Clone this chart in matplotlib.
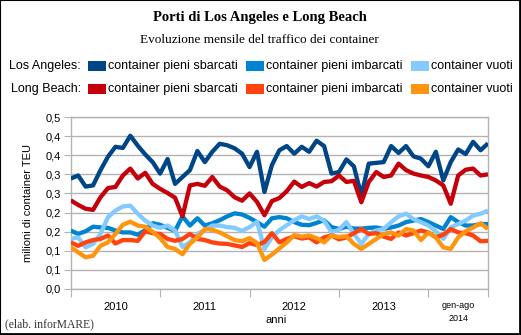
import numpy as np
import matplotlib
matplotlib.use("Agg")
import matplotlib.pyplot as plt
from matplotlib.patches import Rectangle
from matplotlib.lines import Line2D

# Monthly container traffic, millions of TEU
la_sbarcati = [0.289, 0.297, 0.268, 0.271, 0.311, 0.346, 0.372, 0.369, 0.401, 0.375, 0.352, 0.332,
               0.302, 0.340, 0.275, 0.293, 0.311, 0.361, 0.332, 0.359, 0.380, 0.376, 0.368, 0.354,
               0.319, 0.359, 0.254, 0.324, 0.363, 0.374, 0.354, 0.372, 0.359, 0.388, 0.374, 0.302,
               0.306, 0.339, 0.321, 0.245, 0.328, 0.330, 0.332, 0.374, 0.356, 0.374, 0.347, 0.341,
               0.321, 0.359, 0.284, 0.332, 0.365, 0.353, 0.385, 0.363, 0.381]
la_imbarcati = [0.153, 0.144, 0.151, 0.163, 0.161, 0.160, 0.153, 0.148, 0.148, 0.142, 0.154, 0.172,
                0.168, 0.160, 0.152, 0.190, 0.166, 0.185, 0.166, 0.172, 0.180, 0.190, 0.198, 0.195,
                0.186, 0.175, 0.163, 0.185, 0.188, 0.185, 0.175, 0.168, 0.167, 0.173, 0.180, 0.162,
                0.157, 0.163, 0.158, 0.158, 0.160, 0.161, 0.157, 0.161, 0.166, 0.175, 0.179, 0.183,
                0.175, 0.166, 0.157, 0.188, 0.175, 0.166, 0.166, 0.170, 0.170]
la_vuoti = [0.131, 0.135, 0.109, 0.118, 0.144, 0.188, 0.205, 0.216, 0.218, 0.197, 0.179, 0.166,
            0.160, 0.166, 0.153, 0.110, 0.122, 0.144, 0.154, 0.166, 0.166, 0.162, 0.160, 0.152,
            0.162, 0.176, 0.105, 0.135, 0.154, 0.167, 0.180, 0.190, 0.183, 0.190, 0.179, 0.148,
            0.155, 0.175, 0.145, 0.118, 0.144, 0.153, 0.157, 0.175, 0.190, 0.197, 0.183, 0.175,
            0.166, 0.151, 0.131, 0.161, 0.170, 0.179, 0.192, 0.197, 0.205]
lb_sbarcati = [0.232, 0.220, 0.210, 0.207, 0.240, 0.264, 0.267, 0.297, 0.315, 0.289, 0.304, 0.275,
               0.262, 0.251, 0.239, 0.190, 0.271, 0.275, 0.270, 0.293, 0.268, 0.258, 0.240, 0.231,
               0.250, 0.228, 0.193, 0.230, 0.238, 0.256, 0.281, 0.267, 0.277, 0.268, 0.280, 0.282,
               0.297, 0.280, 0.283, 0.227, 0.280, 0.306, 0.293, 0.297, 0.328, 0.311, 0.302, 0.297,
               0.293, 0.284, 0.271, 0.223, 0.297, 0.312, 0.315, 0.297, 0.300]
lb_imbarcati = [0.122, 0.113, 0.122, 0.128, 0.131, 0.140, 0.119, 0.128, 0.128, 0.126, 0.151, 0.146,
                0.144, 0.131, 0.126, 0.131, 0.144, 0.131, 0.128, 0.122, 0.119, 0.118, 0.114, 0.110,
                0.120, 0.115, 0.123, 0.146, 0.122, 0.131, 0.138, 0.132, 0.135, 0.122, 0.135, 0.140,
                0.130, 0.135, 0.146, 0.157, 0.144, 0.146, 0.137, 0.131, 0.148, 0.140, 0.146, 0.153,
                0.148, 0.135, 0.142, 0.157, 0.148, 0.146, 0.140, 0.125, 0.126]
lb_vuoti = [0.109, 0.096, 0.083, 0.087, 0.113, 0.122, 0.144, 0.168, 0.176, 0.166, 0.163, 0.150,
            0.133, 0.110, 0.105, 0.091, 0.118, 0.135, 0.157, 0.155, 0.148, 0.138, 0.128, 0.125,
            0.133, 0.120, 0.076, 0.090, 0.106, 0.122, 0.141, 0.137, 0.140, 0.133, 0.122, 0.140,
            0.136, 0.138, 0.118, 0.105, 0.118, 0.131, 0.144, 0.148, 0.140, 0.157, 0.153, 0.128,
            0.148, 0.135, 0.109, 0.105, 0.135, 0.151, 0.161, 0.172, 0.157]

series_labels = ["container pieni sbarcati", "container pieni imbarcati", "container vuoti"]
port_labels = ["Los Angeles:", "Long Beach:"]
year_labels = ["2010", "2011", "2012", "2013", "gen-ago\n2014"]
year_bounds = [0, 12, 24, 36, 48, 56]
y_ticks = [0.0, 0.05, 0.10, 0.15, 0.20, 0.25, 0.30, 0.35, 0.40, 0.45]
y_tick_labels = ["0,0", "0,1", "0,1", "0,2", "0,2", "0,3", "0,3", "0,4", "0,4", "0,5"]

la_colors = ["#004586", "#0084d1", "#83caff"]
lb_colors = ["#c5000b", "#ff420e", "#ff950e"]

W, H = 521, 335
fig = plt.figure(figsize=(W / 100, H / 100), dpi=100)
fig.patch.set_facecolor("white")

SANS = ["Liberation Sans", "DejaVu Sans"]
SERIF = ["Liberation Serif", "DejaVu Serif"]
GRID = "#b3b3b3"


def fx(px):
    return px / W


def fy(py):
    return 1 - py / H


# plot area
x0, x1, ytop, ybot = 70.7, 488, 117, 289
ax = fig.add_axes([fx(x0), fy(ybot), fx(x1 - x0), (ybot - ytop) / H])

x = np.arange(len(la_sbarcati))
all_series = [la_sbarcati, la_imbarcati, la_vuoti, lb_sbarcati, lb_imbarcati, lb_vuoti]
all_colors = la_colors + lb_colors
for vals, col in zip(all_series, all_colors):
    ax.plot(x, vals, color=col, lw=3.1, solid_joinstyle="round", solid_capstyle="butt", zorder=3)

ax.set_xlim(year_bounds[0], year_bounds[-1])
ax.set_ylim(y_ticks[0], y_ticks[-1])
ax.set_yticks(y_ticks)
ax.set_yticklabels(y_tick_labels, fontsize=8, family=SANS)
ax.yaxis.grid(True, color=GRID, lw=1)
ax.set_axisbelow(True)
for s in ax.spines.values():
    s.set_color(GRID)
    s.set_linewidth(1)

ax.set_xticks(year_bounds)
ax.set_xticklabels([])
centers = [(a + b) / 2 for a, b in zip(year_bounds[:-1], year_bounds[1:])]
ax.set_xticks(centers, minor=True)
ax.set_xticklabels(year_labels, minor=True, family=SANS, fontsize=8)
ax.tick_params(axis="x", which="major", length=6, color=GRID, direction="out")
ax.tick_params(axis="x", which="minor", length=0, pad=9)
ax.tick_params(axis="y", length=5, color=GRID, pad=2)
last = ax.get_xticklabels(minor=True)[-1]
last.set_fontsize(6.5)
last.set_linespacing(1.45)

# titles
fig.text(fx(260), fy(17), "Porti di Los Angeles e Long Beach", ha="center", va="center",
         family=SERIF, fontsize=10.5, fontweight="bold")
fig.text(fx(259), fy(40), "Evoluzione mensile del traffico dei container", ha="center", va="center",
         family=SERIF, fontsize=9.5)

# legend
rows_y = [66, 89]
patch_x = [88, 246, 411]
for r, (port, cols) in enumerate(zip(port_labels, [la_colors, lb_colors])):
    yc = rows_y[r]
    fig.text(fx(81), fy(yc), port, ha="right", va="center", family=SANS, fontsize=9)
    for c in range(3):
        fig.add_artist(Rectangle((fx(patch_x[c]), fy(yc + 5)), fx(18), 10 / H,
                                 transform=fig.transFigure, facecolor=cols[c], edgecolor="none"))
        fig.text(fx(patch_x[c] + 20), fy(yc), series_labels[c], ha="left", va="center",
                 family=SANS, fontsize=9)

# axis titles and source note
fig.text(fx(28), fy(203), "milioni di container TEU", rotation=90, ha="center", va="center",
         family=SANS, fontsize=8)
fig.text(fx(276), fy(320), "anni", ha="center", va="center", family=SANS, fontsize=8)
fig.text(fx(5), fy(324), "(elab. inforMARE)", ha="left", va="center", family=SERIF,
         fontsize=8.4, color="#333333")

# outer frame
fig.add_artist(Line2D([0, 0], [0, 1], transform=fig.transFigure, color="black", lw=1.5))
fig.add_artist(Line2D([0, 1], [1, 1], transform=fig.transFigure, color="black", lw=1.5))
fig.add_artist(Line2D([fx(519.5), fx(519.5)], [0, 1], transform=fig.transFigure, color="black", lw=2))
fig.add_artist(Line2D([0, fx(520)], [fy(333.5), fy(333.5)], transform=fig.transFigure, color="black", lw=2))

fig.savefig("out.png", dpi=100)
